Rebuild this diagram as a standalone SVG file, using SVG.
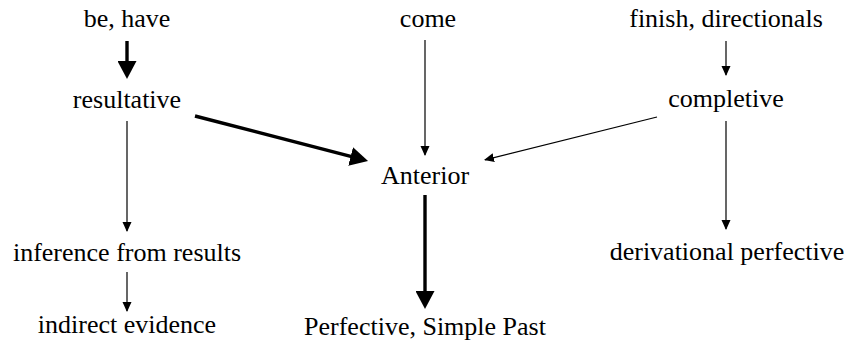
<svg xmlns="http://www.w3.org/2000/svg" width="851" height="345" viewBox="0 0 851 345">
<defs>
<style>
.lbl{font-family:'Liberation Serif','Times New Roman','DejaVu Serif','Noto Serif',serif;font-size:26px;fill:#000;text-anchor:middle}
.thin{stroke:#000;stroke-width:1.2;fill:none;marker-end:url(#ah)}
.thick{stroke:#000;stroke-width:3.4;fill:none;marker-end:url(#AH)}
</style>
<marker id="ah" markerUnits="userSpaceOnUse" markerWidth="10" markerHeight="10" viewBox="0 0 10 9" refX="9" refY="4.5" orient="auto"><path d="M0,0 L10,4.5 L0,9 z" fill="#000"/></marker>
<marker id="AH" markerUnits="userSpaceOnUse" markerWidth="18" markerHeight="19" viewBox="0 0 18 19" refX="13" refY="9.5" orient="auto"><path d="M0,0 L18,9.5 L0,19 z" fill="#000"/></marker>
</defs>
<rect width="851" height="345" fill="#fff"/>
<g id="connectors">
<line class="thick" x1="127" y1="41" x2="127" y2="74"/>
<line class="thick" x1="195" y1="116" x2="363.2" y2="159.7"/>
<line class="thin" x1="425" y1="40" x2="425" y2="155"/>
<line class="thin" x1="657" y1="117" x2="485" y2="159.8"/>
<line class="thin" x1="726" y1="41" x2="726" y2="75"/>
<line class="thin" x1="726" y1="121" x2="726" y2="229"/>
<line class="thin" x1="127" y1="121" x2="127" y2="231"/>
<line class="thin" x1="127" y1="272" x2="127" y2="311"/>
<line class="thick" x1="425" y1="195" x2="425" y2="304"/>
</g>
<g id="be-have"><text class="lbl" x="127" y="27">be, have</text></g>
<g id="come"><text class="lbl" x="428" y="27">come</text></g>
<g id="finish-directionals"><text class="lbl" x="726" y="27">finish, directionals</text></g>
<g id="resultative"><text class="lbl" x="127" y="108">resultative</text></g>
<g id="completive"><text class="lbl" x="726" y="107">completive</text></g>
<g id="anterior"><text class="lbl" x="425" y="184">Anterior</text></g>
<g id="inference"><text class="lbl" x="127" y="261">inference from results</text></g>
<g id="derivational-perfective"><text class="lbl" x="727" y="260">derivational perfective</text></g>
<g id="indirect-evidence"><text class="lbl" x="127" y="333">indirect evidence</text></g>
<g id="perfective-simple-past"><text class="lbl" x="425" y="335">Perfective, Simple Past</text></g>
</svg>
